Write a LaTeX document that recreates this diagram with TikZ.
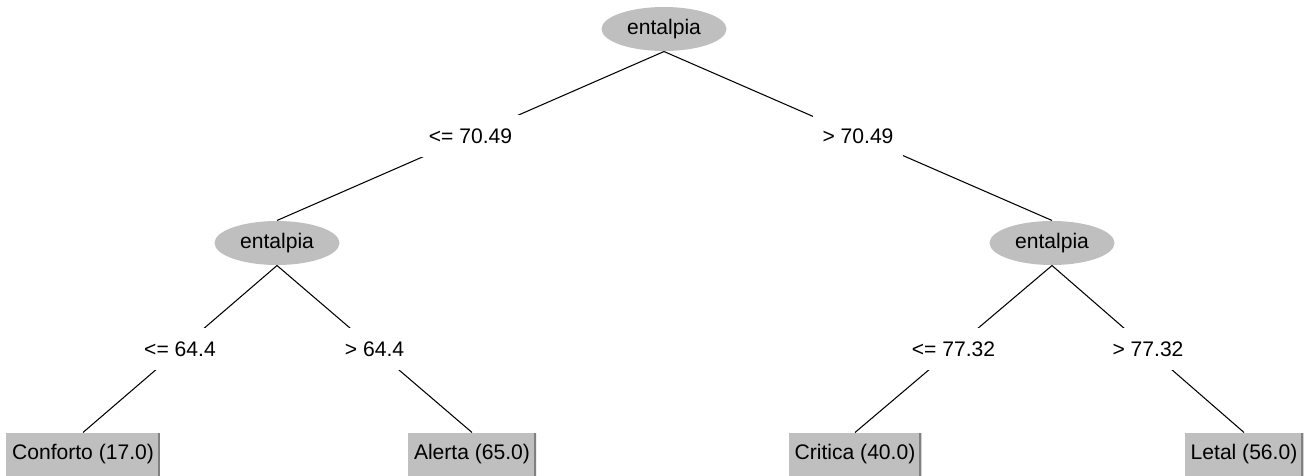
\documentclass[tikz,border=0pt]{standalone}
\usepackage{fontspec}
\setmainfont{Liberation Sans}
\usetikzlibrary{shapes.geometric}

\begin{document}
\begin{tikzpicture}
[
	x = 0.02cm, y = -0.02cm,
	font = \fontsize{12}{14}\selectfont,
	every path/.style = {line width = 0.6pt},
	split/.style = {ellipse, fill = black!25, minimum width = 2.5cm, minimum height = 0.88cm, inner sep = 0cm},
	cond/.style = {fill = white, minimum height = 0.84cm, inner xsep = 0.2cm, inner ysep = 0cm},
	leaf/.style = {rectangle, fill = black!25, minimum height = 0.86cm, inner xsep = 0.12cm, inner ysep = 0cm,
		path picture = {\draw [black!50, line width = 0.08cm] (path picture bounding box.north east) -- (path picture bounding box.south east);}},
]

	\useasboundingbox (0, 0) rectangle (1307, 476);

	% tests
	\node (root) [split] at (664, 29) {entalpia};
	\node (entL) [split] at (277, 243) {entalpia};
	\node (entR) [split] at (1052, 243) {entalpia};
	%
	\node (conf) [leaf] at (83, 454.5) {Conforto (17.0)};
	\node (alerta) [leaf] at (472, 454.5) {Alerta (65.0)};
	\node (critica) [leaf] at (855, 454.5) {Critica (40.0)};
	\node (letal) [leaf] at (1244, 454.5) {Letal (56.0)};

	% branches
	\draw (root.south) -- node [cond] {<= 70.49} (entL.north);
	\draw (root.south) -- node [cond] {> 70.49} (entR.north);
	%
	\draw (entL.south) -- node [cond] {<= 64.4} (conf.north);
	\draw (entL.south) -- node [cond] {> 64.4} (alerta.north);
	%
	\draw (entR.south) -- node [cond] {<= 77.32} (critica.north);
	\draw (entR.south) -- node [cond] {> 77.32} (letal.north);

\end{tikzpicture}
\end{document}
